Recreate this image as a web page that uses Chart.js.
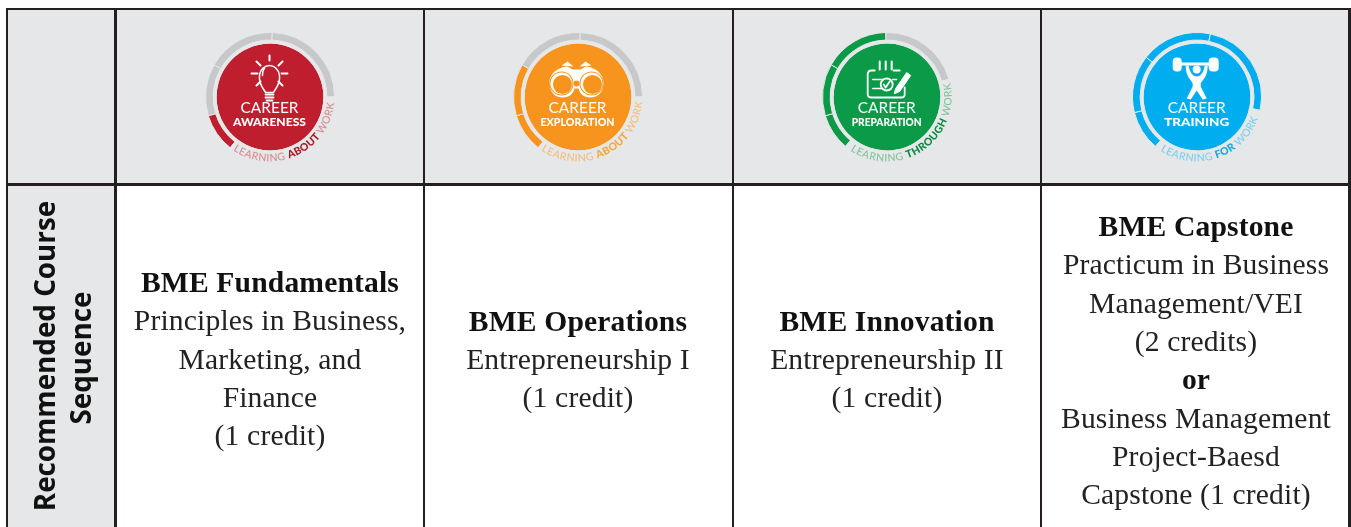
<!DOCTYPE html>
<html><head><meta charset="utf-8">
<style>
html,body{margin:0;padding:0;background:#fff;overflow:hidden}
#page{position:relative;width:1351px;height:527px;overflow:hidden;background:#fff}
.b{position:absolute;background:#231f20}
.g{position:absolute;background:#e6e7e8}
canvas{position:absolute;filter:blur(.4px)}
svg{position:absolute;left:0;top:0}
.t{font-family:"Liberation Serif",serif;font-size:29.6px;letter-spacing:.15px;fill:#222;text-anchor:middle}
.h{font-weight:bold;fill:#111}
.c1{font-family:Lato,sans-serif;fill:#fff;text-anchor:middle}
.bd{filter:blur(.4px)}
.lbl{font-family:"Open Sans",sans-serif;font-weight:bold;font-size:27.8px;fill:#111;text-anchor:middle}
</style></head><body>
<div id="page">
<div class="g" style="left:8px;top:10px;width:1340px;height:173px"></div>
<div class="g" style="left:8px;top:183px;width:107px;height:344px"></div>
<div id="badges"></div>
<svg id="ov" width="1351" height="527" xmlns="http://www.w3.org/2000/svg"></svg>
</div>
<script src="https://cdn.jsdelivr.net/npm/chart.js@4"></script>
<script>
const stages = ["AWARENESS","EXPLORATION","PREPARATION","TRAINING"];
const centersX = [269.5,577.5,886.7,1196.7];
const stageColors = ["#be1e2d","#f7941e","#0b9a48","#00aeef"];
const ringGray = "#c7c8ca";
const pageBg = "#e6e7e8";
const ringStart = [218,218,220,220];
const ringAwareness = [35,47,62,88];
const ringExploration = [35,47,62,88];
const ringPreparation = [33,47,59,75];
const ringTraining = [36,52,64,90];
const ringFilled = [1,2,3,4];
const tagLight = ["#d98d94","#f4bd7b","#7fc59b","#7bcff0"];
const tagDark = ["#a81c2a","#f5a83c","#0a8a41","#1aa6dc"];
const tagMiddle = ["ABOUT","ABOUT","THROUGH","FOR"];
const tagEnd = [96,95,78,110];
const secondWidths = [73,74,70,65];
const colLines = [
 ["BME Fundamentals","Principles in Business,","Marketing, and","Finance","(1 credit)"],
 ["BME Operations","Entrepreneurship I","(1 credit)"],
 ["BME Innovation","Entrepreneurship II","(1 credit)"],
 ["BME Capstone","Practicum in Business","Management/VEI","(2 credits)","or","Business Management","Project-Baesd","Capstone (1 credit)"]
];
const colBold = [[0],[0],[0],[0,4]];
const colFirstBaseline = [292,330.5,330.5,236];
const colCenters = [270,578,887,1196];

const rings=[ringAwareness,ringExploration,ringPreparation,ringTraining];
const page=document.getElementById('page');
const ov=document.getElementById('ov');
function bar(x,y,w,h){const d=document.createElement('div');d.className='b';d.style.cssText=`left:${x}px;top:${y}px;width:${w}px;height:${h}px`;page.insertBefore(d,document.getElementById('badges'));}
bar(5.5,7.5,1345,2.5);bar(5.5,183,1345,2.5);
[5.5,114,422.5,731.5,1039.5,1348].forEach(x=>bar(x,7.5,2.5,520));

const S=130;
stages.forEach((s,i)=>{
  const c=document.createElement('canvas');c.width=S;c.height=S;
  c.style.cssText=`left:${centersX[i]-S/2}px;top:${96.5-S/2}px;width:${S}px;height:${S}px`;
  document.getElementById('badges').appendChild(c);
  const seg=rings[i], rest=360-seg.reduce((a,b)=>a+b,0);
  new Chart(c,{type:'doughnut',data:{labels:['a','b','c','d','gap'],datasets:[
    {data:[...seg,rest],backgroundColor:[...seg.map((_,k)=>k<ringFilled[i]?stageColors[i]:ringGray),pageBg],borderColor:pageBg,borderWidth:1,weight:7.5},
    {data:[1],backgroundColor:[pageBg],borderWidth:0,weight:3.5},
    {data:[1],backgroundColor:[stageColors[i]],borderWidth:0,weight:53}
  ]},options:{responsive:false,animation:false,devicePixelRatio:1,cutout:0,rotation:ringStart[i],events:[],
    layout:{padding:0},plugins:{legend:{display:false},tooltip:{enabled:false}}}});
});

function icon(i){
 const st='fill="none" stroke="#fff" stroke-linecap="round" stroke-linejoin="round"';
 if(i==0)return `<g ${st} stroke-width="1.5"><path d="M-4 -4 C-6 -8 -11 -12 -10 -21 C-9 -28 -4 -31 0 -31 C4 -31 9 -28 10 -21 C11 -12 6 -8 4 -4 Z"/><path d="M-5 -28 C-7 -26 -7 -23 -7 -21"/><path d="M-4 -2H4M-4 1H4M-3 4H3" stroke-width="1.8"/><path d="M0 -41V-36M-13 -35L-9 -31M13 -35L9 -31M-18 -23H-12M18 -23H12M-13 -11L-9 -15M13 -11L9 -15" stroke-width="2"/></g>`;
 if(i==1)return `<g transform="translate(-1,0)"><path d="M-27 -14 C-27 -24 -16 -30 -9 -30 L-4 -27 L4 -27 L9 -30 C16 -30 27 -24 27 -14 C27 -2 19 1 14 1 C7 1 3 -3 2 -8 L-2 -8 C-3 -3 -7 1 -14 1 C-19 1 -27 -2 -27 -14Z" fill="#fff"/><path d="M-15 -31 L-9 -35 L-3 -30 Z M15 -31 L9 -35 L3 -30 Z" fill="#fff"/><circle cx="-15" cy="-13" r="12" fill="#f7941e"/><circle cx="15" cy="-13" r="12" fill="#f7941e"/><circle cx="-15" cy="-13" r="11" fill="#fff"/><circle cx="15" cy="-13" r="11" fill="#fff"/><circle cx="-14" cy="-12" r="9.5" fill="#f7941e"/><circle cx="16" cy="-12" r="9.5" fill="#f7941e"/><circle cx="0" cy="-13" r="3" fill="#f7941e"/></g>`;
 if(i==2)return `<g ${st} stroke-width="1.8"><path d="M-12 -26 H-15 Q-19 -26 -19 -22 V-2 Q-19 1 -15 1 H14 Q18 1 18 -2 V-9"/><path d="M7 -26 H13"/><path d="M-7 -35V-27M-1 -35V-27M5 -35V-27" stroke-width="2"/><path d="M-14 -17 H-4 M-14 -8 H-4 M6 -17 H10" stroke-width="1.4"/><circle cx="0" cy="-12" r="6"/><path d="M-3 -12 L-1 -9 L3 -15"/><path d="M9 -8 L20 -24 L24 -21 L13 -5 L8 -3 Z" fill="#fff" stroke-width="1"/></g>`;
 return `<g fill="#fff"><rect x="-24" y="-39" width="9" height="14" rx="4"/><rect x="12" y="-39" width="10" height="14" rx="4"/><rect x="-16" y="-34" width="29" height="3"/><circle cx="0" cy="-27" r="4"/><path d="M-11 -31 L-8 -31 C-7 -23 -3 -20 0 -20 C3 -20 7 -23 8 -31 L11 -31 C11 -20 6 -17 4 -13 L4 -10 L10 2 L6 3 L0 -6 L-6 3 L-10 2 L-4 -10 L-4 -13 C-6 -17 -11 -20 -11 -31 Z"/></g>`;
}
function pt(r,a){const t=a*Math.PI/180;return [r*Math.sin(t),-r*Math.cos(t)];}
let html='<defs>';
stages.forEach((s,i)=>{
 const [x0,y0]=pt(65,214),[x1,y1]=pt(65,tagEnd[i]);
 html+=`<path id="arc${i}" d="M${x0.toFixed(2)} ${y0.toFixed(2)} A65 65 0 0 0 ${x1.toFixed(2)} ${y1.toFixed(2)}"/>`;
});
html+='</defs>';
stages.forEach((s,i)=>{
 const span=(214-tagEnd[i])*Math.PI/180*65;
 html+=`<g class="bd" transform="translate(${centersX[i]},96.5)">${icon(i)}
 <text class="c1" y="16.8" font-size="15" textLength="58" lengthAdjust="spacingAndGlyphs">CAREER</text>
 <text class="c1" y="29.3" font-size="11.5" font-weight="900" textLength="${secondWidths[i]}" lengthAdjust="spacingAndGlyphs">${s}</text>
 <text font-family="Lato,sans-serif" font-size="10.5" font-weight="500"><textPath href="#arc${i}" textLength="${span.toFixed(1)}" lengthAdjust="spacing"><tspan fill="${tagLight[i]}">LEARNING </tspan><tspan fill="${tagDark[i]}" font-weight="900">${tagMiddle[i]} </tspan><tspan fill="${tagLight[i]}">WORK</tspan></textPath></text>
 </g>`;
});
colLines.forEach((lines,i)=>{
 lines.forEach((l,k)=>{
  const bold=colBold[i].includes(k);
  html+=`<text class="t${bold?' h':''}" x="${colCenters[i]}" y="${colFirstBaseline[i]+k*38.3}">${l}</text>`;
 });
});
html+=`<text class="lbl" transform="translate(55,356) rotate(-90)">Recommended Course</text>`;
html+=`<text class="lbl" transform="translate(90.5,358) rotate(-90)">Sequence</text>`;
ov.innerHTML=html;
</script>
</body></html>
